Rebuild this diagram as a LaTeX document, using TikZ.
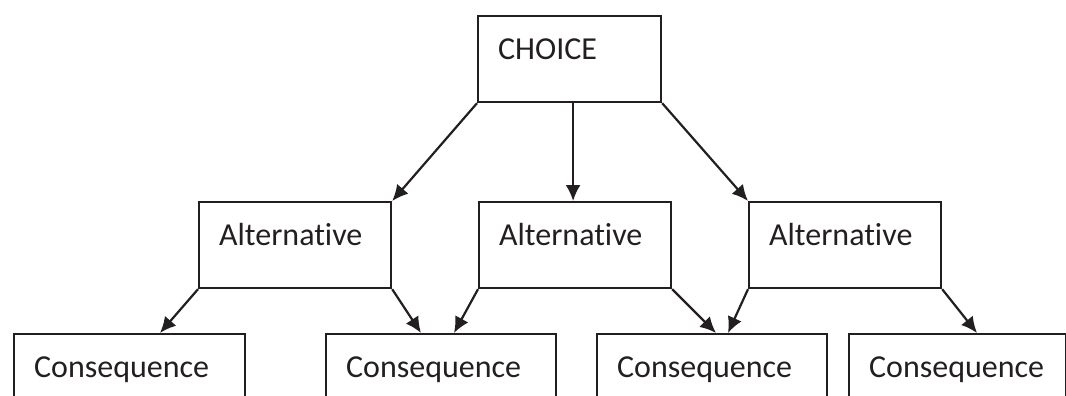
\documentclass[tikz,border=0pt]{standalone}
\usepackage{fontspec}
\setmainfont{Carlito}[Ligatures=NoCommon]
\usetikzlibrary{arrows.meta}
\definecolor{ink}{RGB}{35,31,32}

\begin{document}
\begin{tikzpicture}[x=1pt,y=-1pt,line width=2.2pt,draw=ink,text=ink]
\tikzstyle{box}=[draw,rectangle,anchor=north west,align=left,inner xsep=20pt,inner ysep=0pt,text height=43pt,text depth=43pt,font=\fontsize{32}{38}\selectfont]
\tikzstyle{arr}=[-{Latex[length=16pt,width=15pt]}]
\useasboundingbox (0,0) rectangle (1066,396);
\node[box,text width=143pt] (choice) at (477,15) {CHOICE};
\foreach \n/\x in {1/198,2/478,3/748}{
\node[box,text width=152pt] (alt\n) at (\x,201) {Alternative};
};
\foreach \n/\x/\w in {1/13/191,2/325/190,3/596/190,4/848/177}{
\node[box,text width=\w pt] (con\n) at (\x,333) {Consequence};
};
\draw[arr] (choice.south west) -- (alt1.north east);
\draw[arr] (choice.south -| alt2.north) ++(-2,0) -- ([xshift=-2pt]alt2.north);
\draw[arr] (choice.south east) -- (alt3.north west);
\foreach \a/\c/\d/\s in {1/1/south west/147,1/2/south east/96,2/2/south west/129,2/3/south east/120,3/3/south west/132,3/4/south east/129}{
\draw[arr] (alt\a.\d) -- ([xshift=\s pt]con\c.north west);
}
\end{tikzpicture}
\end{document}
